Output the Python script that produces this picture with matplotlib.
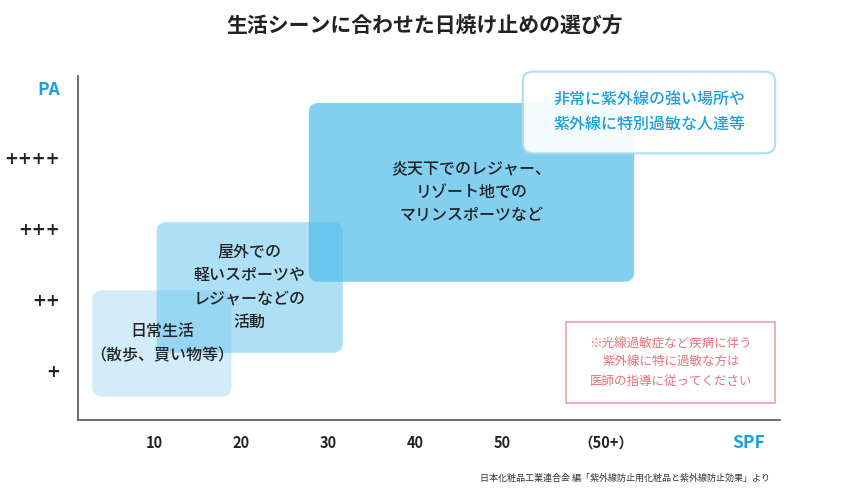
import matplotlib
matplotlib.use("Agg")
import matplotlib.pyplot as plt
from matplotlib.patches import FancyBboxPatch

plt.rcParams['font.family'] = ['Noto Sans CJK JP', 'DejaVu Sans']

title = "生活シーンに合わせた日焼け止めの選び方"
spf_ticks = [10, 20, 30, 40, 50, 62]
spf_labels = ["10", "20", "30", "40", "50", "（50+）"]
pa_ticks = [1, 2, 3, 4]
pa_labels = ["+", "++", "+++", "++++"]
# (spf_start, spf_end, pa_low, pa_high)
scenes = [
    (2.9, 18.9, 0.65, 2.15, "日常生活\n（散歩、買い物等）", 0.25),
    (10.3, 31.7, 1.27, 3.11, "屋外での\n軽いスポーツや\nレジャーなどの\n活動", 0.45),
    (27.8, 65.2, 2.27, 4.79, "炎天下でのレジャー、\nリゾート地での\nマリンスポーツなど", 0.7),
]
extreme = (52.4, 81.4, 4.08, 5.23, "非常に紫外線の強い場所や\n紫外線に特別過敏な人達等")
note = (57.4, 81.4, 0.56, 1.70, "※光線過敏症など疾病に伴う\n紫外線に特に過敏な方は\n医師の指導に従ってください")

blue = "#1a9ee0"
fill = "#4dbbea"

fig = plt.figure(figsize=(8.5, 5.0), dpi=100)
ax = fig.add_axes([0, 0, 1, 1])
ax.set_xlim(-7.70, 90.0)
ax.set_ylim(-0.803, 6.239)
ax.axis("off")

x0, y0 = 1.26, 0.32
ax.plot([x0, x0], [y0, 5.17], color="#555555", lw=1.2)
ax.plot([x0, 81.95], [y0, y0], color="#555555", lw=1.2)

for v, lab in zip(spf_ticks, spf_labels):
    ax.text(v, -0.0, lab, ha="center", va="center", fontsize=10.5, fontweight="bold", color="#222222")
ax.text(78.3, -0.0, "SPF", ha="center", va="center", fontsize=12.5, fontweight="bold", color=blue)
for l, lab in zip(pa_ticks, pa_labels):
    ax.text(-0.8, l, lab, ha="right", va="center", fontsize=12, fontweight="bold",
            color="#222222", family="DejaVu Sans")
ax.text(-0.8, 4.97, "PA", ha="right", va="center", fontsize=12.5, fontweight="bold", color=blue)

for (a, b, lo, hi, txt, al) in scenes:
    ax.add_patch(FancyBboxPatch((a, lo), b - a, hi - lo, boxstyle="round,pad=0,rounding_size=1.2",
                                mutation_aspect=0.11, facecolor=fill, alpha=al, edgecolor="none"))
    ax.text((a + b) / 2, (lo + hi) / 2, txt, ha="center", va="center", fontsize=11.5,
            fontweight="medium", color="#222222", linespacing=1.5)

a, b, lo, hi, txt = extreme
ax.add_patch(FancyBboxPatch((a, lo), b - a, hi - lo, boxstyle="round,pad=0,rounding_size=1.2",
                            mutation_aspect=0.11, facecolor="white", alpha=0.92,
                            edgecolor="#a8dcf3", lw=1.5))
ax.text((a + b) / 2, (lo + hi) / 2, txt, ha="center", va="center", fontsize=11.5,
        fontweight="medium", color=blue, linespacing=1.5)

a, b, lo, hi, txt = note
ax.add_patch(FancyBboxPatch((a, lo), b - a, hi - lo, boxstyle="square,pad=0",
                            facecolor="white", edgecolor="#f0a0a8", lw=1.2))
ax.text((a + b) / 2, (lo + hi) / 2, txt, ha="center", va="center", fontsize=9,
        color="#e8707c", linespacing=1.6)

fig.text(0.5, 1 - 25 / 500, title, ha="center", va="center", fontsize=15, fontweight="bold", color="#222222")
fig.text(770 / 850, 1 - 478 / 500, "日本化粧品工業連合会 編「紫外線防止用化粧品と紫外線防止効果」より",
         ha="right", va="center", fontsize=6.5, color="#333333")

fig.savefig("out.png", dpi=100)
